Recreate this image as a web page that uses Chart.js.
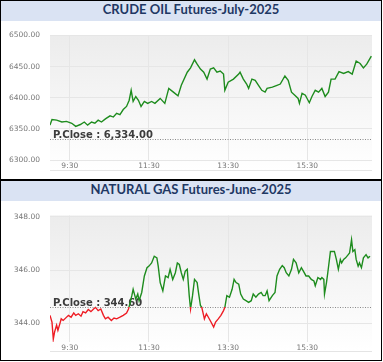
<!DOCTYPE html>
<html>
<head>
<meta charset="utf-8">
<title>MCX Futures</title>
<script src="https://cdn.jsdelivr.net/npm/chart.js@4"></script>
<style>
  body { margin: 0; background: #fff; width: 383px; height: 362px; position: relative; overflow: hidden; }
  .panel { position: absolute; left: 0; width: 380px; border: 1px solid #000; background: #fff; }
  .head { height: 20px; line-height: 21px; background: #dae3f3; text-align: center;
          font: bold 13px Lato, "Liberation Sans", sans-serif; color: #1f3864; }
  canvas { display: block; }
</style>
</head>
<body>
<div class="panel" style="top:0">
  <div class="head" id="t1"></div>
  <canvas id="oil" width="380" height="158"></canvas>
</div>
<div class="panel" style="top:180px">
  <div class="head" id="t2"></div>
  <canvas id="gas" width="380" height="159"></canvas>
</div>
<script>
// minutes after 9:00
const oilTitle = 'CRUDE OIL Futures-July-2025';
const oilMin = [0, 3, 10, 18, 25, 33, 39, 46, 52, 57, 63, 68, 73, 78, 84, 91, 96, 101, 106, 111,
  116, 120, 123, 126, 130, 134, 138, 143, 148, 154, 159, 167, 174, 180, 187, 194, 199, 208, 213, 219,
  223, 228, 233, 238, 243, 248, 253, 258, 263, 265, 270, 278, 286, 288, 293, 298, 301, 306, 311, 316,
  321, 326, 329, 337, 344, 349, 356, 361, 366, 371, 376, 378, 382, 387, 393, 397, 402, 407, 412, 417,
  422, 426, 432, 438, 445, 452, 458, 464, 470, 475, 480, 487];
const oilVal = [6356, 6365, 6364, 6361, 6362, 6359, 6354, 6357, 6361, 6356, 6361, 6359, 6364, 6361, 6366, 6371, 6369, 6375, 6373, 6381,
  6386, 6396, 6412, 6394, 6402, 6396, 6386, 6394, 6391, 6394, 6391, 6399, 6391, 6415, 6409, 6403, 6420, 6441, 6448, 6461,
  6454, 6446, 6441, 6430, 6446, 6448, 6441, 6443, 6438, 6412, 6425, 6430, 6438, 6441, 6430, 6422, 6415, 6430, 6428, 6420,
  6412, 6409, 6415, 6417, 6420, 6422, 6435, 6428, 6409, 6404, 6399, 6391, 6407, 6404, 6392, 6402, 6412, 6409, 6415, 6402,
  6409, 6430, 6430, 6442, 6439, 6442, 6438, 6459, 6455, 6448, 6454, 6467];
const oilClose = 6334;
const oilCloseText = 'P.Close : 6,334.00';
const oilTicks = [6300, 6350, 6400, 6450, 6500];

const gasTitle = 'NATURAL GAS Futures-June-2025';
const gasMin = [0, 3, 5, 7, 10, 12, 15, 17, 20, 28, 32, 36, 39, 43, 47, 50, 54, 58, 62, 66,
  69, 73, 77, 81, 84, 88, 93, 97, 101, 106, 111, 116, 119, 121, 124, 126, 130, 133, 135, 139,
  143, 147, 150, 154, 158, 162, 164, 167, 171, 175, 179, 182, 186, 190, 193, 196, 199, 202, 205, 208,
  211, 213, 216, 219, 223, 225, 228, 230, 234, 237, 240, 244, 248, 251, 255, 259, 263, 265, 268, 272,
  276, 279, 282, 286, 289, 293, 297, 301, 305, 308, 312, 316, 320, 323, 326, 329, 332, 337, 341, 344,
  348, 352, 355, 358, 362, 366, 369, 373, 377, 381, 384, 388, 392, 396, 400, 402, 406, 410, 412, 415,
  416, 419, 421, 425, 428, 431, 434, 437, 440, 442, 445, 448, 452, 454, 457, 459, 462, 464, 467, 469,
  472, 475, 479, 482, 485];
const gasVal = [344.30, 344.05, 343.41, 343.68, 343.93, 343.74, 343.99, 344.17, 344.11, 344.30, 344.23, 344.39, 344.30, 344.36, 344.27, 344.44, 344.39, 344.52, 344.44, 344.54,
  344.60, 344.48, 344.54, 344.30, 344.17, 344.23, 344.11, 344.20, 344.17, 344.23, 344.30, 344.39, 344.54, 344.73, 345.04, 345.28, 344.91, 345.10, 344.85, 345.16,
  345.78, 346.09, 346.15, 346.27, 346.52, 346.46, 346.15, 345.53, 345.22, 345.78, 345.72, 346.03, 345.65, 345.90, 346.27, 346.21, 345.90, 345.65, 345.96, 346.03,
  345.04, 344.54, 345.04, 345.65, 345.53, 345.16, 344.67, 344.60, 344.17, 344.36, 344.23, 344.05, 343.86, 344.05, 344.17, 344.30, 344.48, 344.60, 345.04, 344.98,
  345.28, 345.65, 345.53, 345.47, 345.10, 344.91, 344.85, 344.79, 344.85, 345.10, 344.98, 345.10, 345.16, 345.04, 345.04, 345.22, 344.85, 345.04, 345.16, 345.78,
  346.03, 346.17, 346.09, 345.90, 345.78, 346.03, 346.40, 346.27, 345.90, 346.09, 345.96, 345.78, 345.78, 345.65, 345.59, 345.41, 345.72, 345.65, 345.72, 345.65,
  345.10, 345.53, 345.90, 346.70, 346.70, 346.70, 346.40, 346.03, 346.40, 346.27, 346.40, 346.46, 346.58, 346.64, 347.14, 346.70, 346.77, 346.40, 346.15, 346.27,
  346.09, 346.46, 346.58, 346.46, 346.52];
const gasClose = 344.60;
const gasCloseText = 'P.Close : 344.60';
const gasTicks = [344, 346, 348];

const timeTicks = [30, 150, 270, 390];
const timeLabels = ['9:30', '11:30', '13:30', '15:30'];

const UP = '#1e8c1e', DOWN = '#ee1c24';
const tickFont = { family: 'DejaVu Sans', size: 7.5 };

document.getElementById('t1').textContent = oilTitle;
document.getElementById('t2').textContent = gasTitle;

// plot background + previous close line
const deco = {
  id: 'deco',
  beforeDraw(chart) {
    const { ctx, chartArea: a } = chart;
    const bottom = chart.height - 9;
    const g = ctx.createLinearGradient(0, a.top, 0, bottom);
    g.addColorStop(0, '#ececec');
    g.addColorStop(1, '#ffffff');
    ctx.save();
    ctx.fillStyle = g;
    ctx.fillRect(a.left, a.top, a.right - a.left, bottom - a.top);
    ctx.fillStyle = '#e4e4e4';
    ctx.fillRect(a.left, bottom, a.right - a.left, 1);
    ctx.restore();
  },
  beforeDatasetsDraw(chart, args, opts) {
    const { ctx, chartArea: a } = chart;
    const y = Math.round(chart.scales.y.getPixelForValue(opts.close)) + 0.5;
    ctx.save();
    ctx.strokeStyle = '#8a8a8a';
    ctx.lineWidth = 1;
    ctx.setLineDash([1, 1.5]);
    ctx.beginPath();
    ctx.moveTo(a.left, y);
    ctx.lineTo(a.right, y);
    ctx.stroke();
    ctx.setLineDash([]);
    ctx.fillStyle = '#3c3c3c';
    ctx.font = 'bold 10px "DejaVu Sans"';
    ctx.textBaseline = 'alphabetic';
    ctx.fillText(opts.text, a.left + 3, y - 1.5);
    ctx.restore();
  }
};

function makeChart(id, mins, vals, close, closeText, yTicks, yMin, yMax, topPad, xHeight) {
  const pts = mins.map((m, i) => ({ x: m, y: vals[i] }));
  return new Chart(document.getElementById(id), {
    type: 'line',
    data: {
      datasets: [{
        data: pts,
        borderWidth: 1.4,
        pointRadius: 0,
        tension: 0,
        borderColor(c) {
          const ch = c.chart, a = ch.chartArea;
          if (!a) return UP;
          let t = (ch.scales.y.getPixelForValue(close) - a.top) / (a.bottom - a.top);
          t = Math.max(0, Math.min(1, t));
          const g = ch.ctx.createLinearGradient(0, a.top, 0, a.bottom);
          g.addColorStop(0, UP); g.addColorStop(t, UP);
          g.addColorStop(t, DOWN); g.addColorStop(1, DOWN);
          return g;
        }
      }]
    },
    options: {
      responsive: false,
      animation: false,
      devicePixelRatio: 1,
      layout: { padding: { top: topPad, right: 9, left: 0, bottom: 0 } },
      plugins: {
        legend: { display: false },
        tooltip: { enabled: false },
        deco: { close: close, text: closeText }
      },
      scales: {
        x: {
          type: 'linear', min: 0, max: 488,
          afterBuildTicks: s => { s.ticks = timeTicks.map(v => ({ value: v })); },
          afterFit: s => { s.height = xHeight; },
          ticks: { callback: (v, i) => timeLabels[i], color: '#777', font: tickFont, padding: 2, maxRotation: 0 },
          grid: { color: '#e6e6e6', drawTicks: false },
          border: { display: false }
        },
        y: {
          min: yMin, max: yMax,
          afterBuildTicks: s => { s.ticks = yTicks.map(v => ({ value: v })); },
          afterFit: s => { s.width = 49; },
          ticks: { callback: v => v.toFixed(2), color: '#777', font: tickFont, padding: 10 },
          grid: { color: '#e6e6e6', drawTicks: false },
          border: { display: false }
        }
      }
    },
    plugins: [deco]
  });
}

makeChart('oil', oilMin, oilVal, oilClose, oilCloseText, oilTicks, 6300, 6500, 11, 19);
makeChart('gas', gasMin, gasVal, gasClose, gasCloseText, gasTicks, 343.3, 348.05, 13, 18);
</script>
</body>
</html>
